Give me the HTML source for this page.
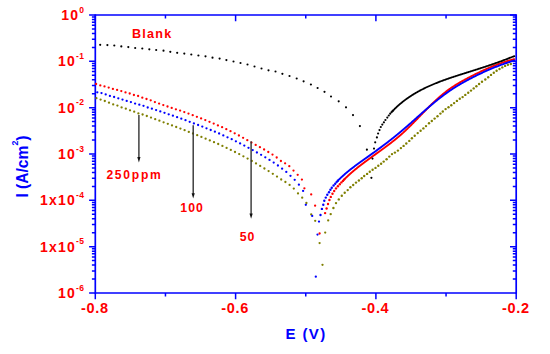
<!DOCTYPE html>
<html><head><meta charset="utf-8"><style>
html,body{margin:0;padding:0;background:#fff;}
body{width:550px;height:354px;overflow:hidden;position:relative;font-family:"Liberation Sans",sans-serif;}
svg{position:absolute;left:0;top:0;}
</style></head><body>
<svg width="550" height="354" viewBox="0 0 550 354">
<g stroke="#0000ff" stroke-width="1.7" fill="none">
<line x1="95.3" y1="15.0" x2="516.2" y2="15.0"/>
<line x1="95.3" y1="293.0" x2="516.2" y2="293.0"/>
<line x1="95.3" y1="14.15" x2="95.3" y2="293.85"/>
<line x1="516.2" y1="14.15" x2="516.2" y2="293.85"/>
</g>
<path d="M89.1 15.00H95.3 M510.0 15.00H516.2 M91.9 47.39H95.3 M512.8 47.39H516.2 M91.9 39.23H95.3 M512.8 39.23H516.2 M91.9 33.44H95.3 M512.8 33.44H516.2 M91.9 28.95H95.3 M512.8 28.95H516.2 M91.9 25.28H95.3 M512.8 25.28H516.2 M91.9 22.18H95.3 M512.8 22.18H516.2 M91.9 19.49H95.3 M512.8 19.49H516.2 M91.9 17.12H95.3 M512.8 17.12H516.2 M89.1 61.33H95.3 M510.0 61.33H516.2 M91.9 93.72H95.3 M512.8 93.72H516.2 M91.9 85.56H95.3 M512.8 85.56H516.2 M91.9 79.77H95.3 M512.8 79.77H516.2 M91.9 75.28H95.3 M512.8 75.28H516.2 M91.9 71.61H95.3 M512.8 71.61H516.2 M91.9 68.51H95.3 M512.8 68.51H516.2 M91.9 65.82H95.3 M512.8 65.82H516.2 M91.9 63.45H95.3 M512.8 63.45H516.2 M89.1 107.67H95.3 M510.0 107.67H516.2 M91.9 140.05H95.3 M512.8 140.05H516.2 M91.9 131.89H95.3 M512.8 131.89H516.2 M91.9 126.10H95.3 M512.8 126.10H516.2 M91.9 121.61H95.3 M512.8 121.61H516.2 M91.9 117.95H95.3 M512.8 117.95H516.2 M91.9 114.84H95.3 M512.8 114.84H516.2 M91.9 112.16H95.3 M512.8 112.16H516.2 M91.9 109.79H95.3 M512.8 109.79H516.2 M89.1 154.00H95.3 M510.0 154.00H516.2 M91.9 186.39H95.3 M512.8 186.39H516.2 M91.9 178.23H95.3 M512.8 178.23H516.2 M91.9 172.44H95.3 M512.8 172.44H516.2 M91.9 167.95H95.3 M512.8 167.95H516.2 M91.9 164.28H95.3 M512.8 164.28H516.2 M91.9 161.18H95.3 M512.8 161.18H516.2 M91.9 158.49H95.3 M512.8 158.49H516.2 M91.9 156.12H95.3 M512.8 156.12H516.2 M89.1 200.33H95.3 M510.0 200.33H516.2 M91.9 232.72H95.3 M512.8 232.72H516.2 M91.9 224.56H95.3 M512.8 224.56H516.2 M91.9 218.77H95.3 M512.8 218.77H516.2 M91.9 214.28H95.3 M512.8 214.28H516.2 M91.9 210.61H95.3 M512.8 210.61H516.2 M91.9 207.51H95.3 M512.8 207.51H516.2 M91.9 204.82H95.3 M512.8 204.82H516.2 M91.9 202.45H95.3 M512.8 202.45H516.2 M89.1 246.67H95.3 M510.0 246.67H516.2 M91.9 279.05H95.3 M512.8 279.05H516.2 M91.9 270.89H95.3 M512.8 270.89H516.2 M91.9 265.10H95.3 M512.8 265.10H516.2 M91.9 260.61H95.3 M512.8 260.61H516.2 M91.9 256.95H95.3 M512.8 256.95H516.2 M91.9 253.84H95.3 M512.8 253.84H516.2 M91.9 251.16H95.3 M512.8 251.16H516.2 M91.9 248.79H95.3 M512.8 248.79H516.2 M89.1 293.00H95.3 M95.30 293.0V299.2 M95.30 15.0V21.2 M165.45 293.0V296.4 M165.45 15.0V18.4 M235.60 293.0V299.2 M235.60 15.0V21.2 M305.75 293.0V296.4 M305.75 15.0V18.4 M375.90 293.0V299.2 M375.90 15.0V21.2 M446.05 293.0V296.4 M446.05 15.0V18.4 M516.20 293.0V299.2 M516.20 15.0V21.2" stroke="#0000ff" stroke-width="1.5" fill="none"/>
<text x="84.2" y="20.0" font-family="Liberation Sans, sans-serif" font-weight="bold" font-size="14" fill="#ff0000" text-anchor="end" letter-spacing="1.2">10<tspan font-size="8.5" dy="-7.4" letter-spacing="0.3">0</tspan></text>
<text x="84.2" y="66.3" font-family="Liberation Sans, sans-serif" font-weight="bold" font-size="14" fill="#ff0000" text-anchor="end" letter-spacing="1.2">10<tspan font-size="8.5" dy="-7.4" letter-spacing="0.3">-1</tspan></text>
<text x="84.2" y="112.7" font-family="Liberation Sans, sans-serif" font-weight="bold" font-size="14" fill="#ff0000" text-anchor="end" letter-spacing="1.2">10<tspan font-size="8.5" dy="-7.4" letter-spacing="0.3">-2</tspan></text>
<text x="84.2" y="159.0" font-family="Liberation Sans, sans-serif" font-weight="bold" font-size="14" fill="#ff0000" text-anchor="end" letter-spacing="1.2">10<tspan font-size="8.5" dy="-7.4" letter-spacing="0.3">-3</tspan></text>
<text x="84.2" y="205.3" font-family="Liberation Sans, sans-serif" font-weight="bold" font-size="14" fill="#ff0000" text-anchor="end" letter-spacing="1.2">1x10<tspan font-size="8.5" dy="-7.4" letter-spacing="0.3">-4</tspan></text>
<text x="84.2" y="251.7" font-family="Liberation Sans, sans-serif" font-weight="bold" font-size="14" fill="#ff0000" text-anchor="end" letter-spacing="1.2">1x10<tspan font-size="8.5" dy="-7.4" letter-spacing="0.3">-5</tspan></text>
<text x="84.2" y="298.0" font-family="Liberation Sans, sans-serif" font-weight="bold" font-size="14" fill="#ff0000" text-anchor="end" letter-spacing="1.2">10<tspan font-size="8.5" dy="-7.4" letter-spacing="0.3">-6</tspan></text>
<text x="94.9" y="313.0" font-family="Liberation Sans, sans-serif" font-weight="bold" font-size="14.5" fill="#ff0000" text-anchor="middle" letter-spacing="0.7">-0.8</text>
<text x="235.2" y="313.0" font-family="Liberation Sans, sans-serif" font-weight="bold" font-size="14.5" fill="#ff0000" text-anchor="middle" letter-spacing="0.7">-0.6</text>
<text x="375.5" y="313.0" font-family="Liberation Sans, sans-serif" font-weight="bold" font-size="14.5" fill="#ff0000" text-anchor="middle" letter-spacing="0.7">-0.4</text>
<text x="515.8" y="313.0" font-family="Liberation Sans, sans-serif" font-weight="bold" font-size="14.5" fill="#ff0000" text-anchor="middle" letter-spacing="0.7">-0.2</text>
<text x="285.6" y="339.4" font-family="Liberation Sans, sans-serif" font-weight="bold" font-size="15" fill="#0000ff" letter-spacing="1.35">E (V)</text>
<g transform="translate(27.9,197.6) rotate(-90)"><text x="0" y="0" font-family="Liberation Sans, sans-serif" font-weight="bold" font-size="15.6" fill="#0000ff">I (A/cm<tspan font-size="8.8" dy="-10">2</tspan><tspan dy="10">)</tspan></text></g>
<text x="132" y="37.5" font-family="Liberation Sans, sans-serif" font-weight="bold" font-size="12.6" fill="#ff0000" letter-spacing="1.25">Blank</text>
<text x="106.4" y="178.7" font-family="Liberation Sans, sans-serif" font-weight="bold" font-size="12.1" fill="#ff0000" letter-spacing="1.75">250ppm</text>
<text x="180.3" y="212.3" font-family="Liberation Sans, sans-serif" font-weight="bold" font-size="12.3" fill="#ff0000" letter-spacing="1">100</text>
<text x="239.7" y="240.9" font-family="Liberation Sans, sans-serif" font-weight="bold" font-size="12.3" fill="#ff0000" letter-spacing="1">50</text>
<g fill="#7f7f00"><circle cx="96.4" cy="98.2" r="1.15"/><circle cx="100.6" cy="99.6" r="1.15"/><circle cx="104.8" cy="101.0" r="1.15"/><circle cx="109.0" cy="102.7" r="1.15"/><circle cx="113.2" cy="104.4" r="1.15"/><circle cx="117.4" cy="105.6" r="1.15"/><circle cx="121.6" cy="107.4" r="1.15"/><circle cx="125.8" cy="108.7" r="1.15"/><circle cx="130.0" cy="110.3" r="1.15"/><circle cx="134.2" cy="111.7" r="1.15"/><circle cx="138.4" cy="113.4" r="1.15"/><circle cx="142.6" cy="114.5" r="1.15"/><circle cx="146.8" cy="116.0" r="1.15"/><circle cx="151.0" cy="117.6" r="1.15"/><circle cx="155.2" cy="119.2" r="1.15"/><circle cx="159.4" cy="120.7" r="1.15"/><circle cx="163.6" cy="122.3" r="1.15"/><circle cx="167.8" cy="123.8" r="1.15"/><circle cx="172.0" cy="125.4" r="1.15"/><circle cx="176.2" cy="127.0" r="1.15"/><circle cx="180.4" cy="128.6" r="1.15"/><circle cx="184.6" cy="130.2" r="1.15"/><circle cx="188.8" cy="131.9" r="1.15"/><circle cx="193.0" cy="133.5" r="1.15"/><circle cx="197.2" cy="135.2" r="1.15"/><circle cx="201.4" cy="136.9" r="1.15"/><circle cx="205.6" cy="138.7" r="1.15"/><circle cx="209.8" cy="140.4" r="1.15"/><circle cx="214.0" cy="142.2" r="1.15"/><circle cx="218.2" cy="144.0" r="1.15"/><circle cx="222.4" cy="145.9" r="1.15"/><circle cx="226.6" cy="147.9" r="1.15"/><circle cx="230.8" cy="149.9" r="1.15"/><circle cx="235.0" cy="152.0" r="1.15"/><circle cx="239.2" cy="154.1" r="1.15"/><circle cx="243.4" cy="156.3" r="1.15"/><circle cx="247.6" cy="158.6" r="1.15"/><circle cx="251.8" cy="161.0" r="1.15"/><circle cx="256.0" cy="163.4" r="1.15"/><circle cx="260.2" cy="165.9" r="1.15"/><circle cx="264.4" cy="168.5" r="1.15"/><circle cx="268.6" cy="171.1" r="1.15"/><circle cx="272.8" cy="173.8" r="1.15"/><circle cx="277.0" cy="176.6" r="1.15"/><circle cx="281.2" cy="179.5" r="1.15"/><circle cx="285.4" cy="182.0" r="1.15"/><circle cx="289.6" cy="184.9" r="1.15"/><circle cx="293.8" cy="188.6" r="1.15"/><circle cx="298.0" cy="193.4" r="1.15"/><circle cx="302.2" cy="197.7" r="1.15"/><circle cx="306.4" cy="203.0" r="1.15"/></g>
<g fill="#7f7f00"><circle cx="311.2" cy="214.4" r="1.15"/><circle cx="315.2" cy="220.8" r="1.15"/><circle cx="319.6" cy="243.1" r="1.15"/><circle cx="322.5" cy="264.8" r="1.15"/><circle cx="325.2" cy="232.6" r="1.15"/><circle cx="328.2" cy="220.4" r="1.15"/></g>
<g fill="#7f7f00"><circle cx="330.7" cy="214.1" r="1.2"/><circle cx="333.4" cy="208.0" r="1.2"/><circle cx="336.0" cy="203.1" r="1.2"/><circle cx="338.8" cy="199.4" r="1.2"/><circle cx="341.8" cy="195.8" r="1.2"/><circle cx="344.7" cy="192.8" r="1.2"/><circle cx="347.7" cy="190.1" r="1.2"/><circle cx="350.4" cy="187.3" r="1.2"/><circle cx="353.2" cy="185.0" r="1.2"/><circle cx="356.0" cy="182.6" r="1.2"/><circle cx="358.9" cy="180.5" r="1.2"/><circle cx="361.7" cy="178.2" r="1.2"/><circle cx="364.2" cy="176.0" r="1.2"/><circle cx="367.1" cy="173.9" r="1.2"/><circle cx="369.8" cy="171.8" r="1.2"/><circle cx="372.6" cy="169.8" r="1.2"/><circle cx="375.5" cy="167.9" r="1.2"/><circle cx="378.3" cy="165.8" r="1.2"/><circle cx="381.1" cy="163.7" r="1.2"/><circle cx="383.7" cy="161.6" r="1.2"/><circle cx="386.6" cy="159.2" r="1.2"/><circle cx="389.3" cy="156.6" r="1.2"/><circle cx="392.0" cy="154.1" r="1.2"/><circle cx="394.9" cy="152.6" r="1.2"/><circle cx="397.9" cy="150.6" r="1.2"/><circle cx="400.9" cy="148.1" r="1.2"/><circle cx="403.6" cy="145.9" r="1.2"/><circle cx="406.3" cy="143.5" r="1.2"/><circle cx="409.3" cy="140.9" r="1.2"/><circle cx="411.9" cy="138.3" r="1.2"/><circle cx="414.7" cy="135.8" r="1.2"/><circle cx="417.7" cy="133.1" r="1.2"/><circle cx="420.6" cy="130.7" r="1.2"/><circle cx="423.4" cy="128.4" r="1.2"/><circle cx="426.0" cy="126.1" r="1.2"/><circle cx="429.0" cy="123.2" r="1.2"/><circle cx="431.8" cy="121.0" r="1.2"/><circle cx="434.6" cy="118.6" r="1.2"/><circle cx="437.5" cy="116.2" r="1.2"/><circle cx="440.4" cy="113.6" r="1.2"/><circle cx="442.8" cy="111.5" r="1.2"/><circle cx="445.6" cy="109.1" r="1.2"/><circle cx="448.5" cy="107.3" r="1.2"/><circle cx="451.3" cy="105.2" r="1.2"/><circle cx="454.1" cy="103.1" r="1.2"/><circle cx="456.9" cy="100.9" r="1.2"/><circle cx="459.8" cy="98.8" r="1.2"/><circle cx="462.6" cy="97.1" r="1.2"/><circle cx="465.3" cy="94.9" r="1.2"/><circle cx="468.2" cy="92.8" r="1.2"/><circle cx="471.0" cy="90.6" r="1.2"/><circle cx="473.7" cy="88.4" r="1.2"/><circle cx="476.4" cy="86.2" r="1.2"/><circle cx="479.1" cy="84.0" r="1.2"/><circle cx="482.0" cy="81.7" r="1.2"/><circle cx="485.3" cy="79.5" r="1.2"/><circle cx="488.2" cy="77.2" r="1.2"/><circle cx="491.0" cy="74.9" r="1.2"/><circle cx="493.8" cy="72.7" r="1.2"/><circle cx="496.6" cy="70.8" r="1.2"/><circle cx="499.5" cy="69.0" r="1.2"/><circle cx="502.3" cy="67.4" r="1.2"/><circle cx="505.1" cy="65.9" r="1.2"/><circle cx="507.9" cy="64.8" r="1.2"/><circle cx="510.8" cy="64.0" r="1.2"/></g>
<g fill="#0000ff"><circle cx="97.3" cy="92.3" r="1.15"/><circle cx="101.5" cy="93.1" r="1.15"/><circle cx="105.7" cy="94.4" r="1.15"/><circle cx="109.9" cy="95.9" r="1.15"/><circle cx="114.1" cy="97.0" r="1.15"/><circle cx="118.3" cy="98.3" r="1.15"/><circle cx="122.5" cy="99.6" r="1.15"/><circle cx="126.7" cy="100.9" r="1.15"/><circle cx="130.9" cy="102.1" r="1.15"/><circle cx="135.1" cy="103.6" r="1.15"/><circle cx="139.3" cy="104.7" r="1.15"/><circle cx="143.5" cy="105.8" r="1.15"/><circle cx="147.7" cy="107.5" r="1.15"/><circle cx="151.9" cy="108.7" r="1.15"/><circle cx="156.1" cy="110.1" r="1.15"/><circle cx="160.3" cy="111.4" r="1.15"/><circle cx="164.5" cy="112.8" r="1.15"/><circle cx="168.7" cy="114.3" r="1.15"/><circle cx="172.9" cy="115.7" r="1.15"/><circle cx="177.1" cy="117.2" r="1.15"/><circle cx="181.3" cy="118.7" r="1.15"/><circle cx="185.5" cy="120.2" r="1.15"/><circle cx="189.7" cy="121.8" r="1.15"/><circle cx="193.9" cy="123.4" r="1.15"/><circle cx="198.1" cy="125.0" r="1.15"/><circle cx="202.3" cy="126.6" r="1.15"/><circle cx="206.5" cy="128.3" r="1.15"/><circle cx="210.7" cy="130.0" r="1.15"/><circle cx="214.9" cy="131.7" r="1.15"/><circle cx="219.1" cy="133.5" r="1.15"/><circle cx="223.3" cy="135.4" r="1.15"/><circle cx="227.5" cy="137.3" r="1.15"/><circle cx="231.7" cy="139.2" r="1.15"/><circle cx="235.9" cy="141.3" r="1.15"/><circle cx="240.1" cy="143.4" r="1.15"/><circle cx="244.3" cy="145.6" r="1.15"/><circle cx="248.5" cy="147.8" r="1.15"/><circle cx="252.7" cy="150.1" r="1.15"/><circle cx="256.9" cy="152.5" r="1.15"/><circle cx="261.1" cy="154.8" r="1.15"/><circle cx="265.3" cy="157.3" r="1.15"/><circle cx="269.5" cy="159.9" r="1.15"/><circle cx="273.7" cy="162.6" r="1.15"/><circle cx="277.9" cy="165.5" r="1.15"/><circle cx="282.1" cy="168.7" r="1.15"/><circle cx="286.3" cy="171.9" r="1.15"/><circle cx="290.5" cy="175.8" r="1.15"/><circle cx="294.7" cy="179.8" r="1.15"/><circle cx="298.9" cy="184.7" r="1.15"/><circle cx="303.1" cy="190.9" r="1.15"/></g>
<g fill="#0000ff"><circle cx="305.8" cy="204.8" r="1.15"/><circle cx="312.2" cy="215.9" r="1.15"/><circle cx="319.0" cy="221.6" r="1.15"/><circle cx="317.5" cy="234.6" r="1.15"/><circle cx="315.8" cy="276.7" r="1.15"/></g>
<g fill="#ff0000"><circle cx="96.1" cy="84.0" r="1.15"/><circle cx="100.3" cy="85.4" r="1.15"/><circle cx="104.5" cy="86.4" r="1.15"/><circle cx="108.7" cy="87.6" r="1.15"/><circle cx="112.9" cy="88.9" r="1.15"/><circle cx="117.1" cy="89.9" r="1.15"/><circle cx="121.3" cy="91.1" r="1.15"/><circle cx="125.5" cy="92.4" r="1.15"/><circle cx="129.7" cy="93.5" r="1.15"/><circle cx="133.9" cy="95.0" r="1.15"/><circle cx="138.1" cy="96.0" r="1.15"/><circle cx="142.3" cy="97.7" r="1.15"/><circle cx="146.5" cy="99.0" r="1.15"/><circle cx="150.7" cy="100.3" r="1.15"/><circle cx="154.9" cy="102.1" r="1.15"/><circle cx="159.1" cy="103.6" r="1.15"/><circle cx="163.3" cy="105.1" r="1.15"/><circle cx="167.5" cy="106.5" r="1.15"/><circle cx="171.7" cy="107.9" r="1.15"/><circle cx="175.9" cy="109.3" r="1.15"/><circle cx="180.1" cy="110.6" r="1.15"/><circle cx="184.3" cy="112.1" r="1.15"/><circle cx="188.5" cy="113.6" r="1.15"/><circle cx="192.7" cy="115.2" r="1.15"/><circle cx="196.9" cy="116.8" r="1.15"/><circle cx="201.1" cy="118.4" r="1.15"/><circle cx="205.3" cy="120.1" r="1.15"/><circle cx="209.5" cy="121.8" r="1.15"/><circle cx="213.7" cy="123.6" r="1.15"/><circle cx="217.9" cy="125.4" r="1.15"/><circle cx="222.1" cy="127.2" r="1.15"/><circle cx="226.3" cy="129.2" r="1.15"/><circle cx="230.5" cy="131.2" r="1.15"/><circle cx="234.7" cy="133.3" r="1.15"/><circle cx="238.9" cy="135.5" r="1.15"/><circle cx="243.1" cy="137.8" r="1.15"/><circle cx="247.3" cy="140.2" r="1.15"/><circle cx="251.5" cy="142.6" r="1.15"/><circle cx="255.7" cy="144.9" r="1.15"/><circle cx="259.9" cy="147.2" r="1.15"/><circle cx="264.1" cy="149.5" r="1.15"/><circle cx="268.3" cy="152.0" r="1.15"/><circle cx="272.5" cy="154.6" r="1.15"/><circle cx="276.7" cy="157.5" r="1.15"/><circle cx="280.9" cy="161.0" r="1.15"/><circle cx="285.1" cy="163.3" r="1.15"/><circle cx="289.3" cy="166.2" r="1.15"/><circle cx="293.5" cy="170.6" r="1.15"/><circle cx="297.7" cy="174.8" r="1.15"/><circle cx="301.9" cy="179.6" r="1.15"/></g>
<g fill="#ff0000"><circle cx="304.4" cy="188.3" r="1.15"/><circle cx="311.2" cy="194.4" r="1.15"/><circle cx="315.1" cy="205.7" r="1.15"/><circle cx="319.6" cy="233.5" r="1.15"/></g>
<g fill="#ff0000"><circle cx="325.1" cy="213.1" r="1.2"/><circle cx="326.6" cy="208.5" r="1.2"/><circle cx="328.0" cy="204.0" r="1.2"/><circle cx="329.4" cy="200.0" r="1.2"/><circle cx="330.8" cy="196.9" r="1.2"/><circle cx="332.5" cy="193.8" r="1.2"/><circle cx="334.2" cy="191.0" r="1.2"/><circle cx="336.0" cy="188.4" r="1.2"/><circle cx="337.9" cy="186.3" r="1.2"/><circle cx="339.8" cy="184.2" r="1.2"/><circle cx="341.4" cy="182.4" r="1.2"/><circle cx="342.9" cy="180.9" r="1.2"/><circle cx="344.1" cy="179.6" r="1.2"/></g><polyline points="344.10,179.61 344.54,179.17 344.97,178.73 345.42,178.29 345.86,177.86 346.30,177.43 346.75,177.00 347.20,176.57 347.65,176.14 348.11,175.72 348.56,175.30 349.02,174.88 349.48,174.46 349.94,174.04 350.40,173.63 350.87,173.22 351.33,172.81 351.80,172.40 352.27,171.99 352.75,171.58 353.22,171.18 353.69,170.78 354.17,170.38 354.65,169.98 355.13,169.58 355.61,169.18 356.09,168.79 356.58,168.40 357.06,168.00 357.55,167.61 358.04,167.22 358.53,166.84 359.02,166.45 359.51,166.06 360.00,165.68 360.50,165.29 360.99,164.91 361.49,164.53 361.99,164.15 362.49,163.77 362.99,163.39 363.49,163.01 363.99,162.64 364.49,162.26 364.99,161.88 365.50,161.51 366.00,161.14 366.51,160.76 367.01,160.39 367.52,160.02 368.03,159.64 368.53,159.27 369.04,158.90 369.55,158.53 370.06,158.16 370.57,157.79 371.08,157.42 371.59,157.06 372.10,156.69 372.61,156.32 373.12,155.95 373.64,155.58 374.15,155.21 374.66,154.85 375.17,154.48 375.68,154.11 376.20,153.74 376.71,153.38 377.22,153.01 377.73,152.64 378.25,152.27 378.76,151.90 379.27,151.53 379.78,151.17 380.29,150.80 380.81,150.43 381.32,150.06 381.83,149.69 382.34,149.32 382.85,148.94 383.36,148.57 383.87,148.20 384.38,147.83 384.88,147.45 385.39,147.08 385.90,146.70 386.40,146.33 386.91,145.95 387.42,145.57 387.92,145.19 388.42,144.81 388.93,144.43 389.43,144.05 389.93,143.67 390.43,143.29 390.93,142.90 391.43,142.52 391.92,142.13 392.42,141.74 392.92,141.36 393.41,140.97 393.90,140.57 394.39,140.18 394.88,139.79 395.37,139.39 395.86,138.99 396.35,138.60 396.83,138.20 397.32,137.79 397.80,137.39 398.28,136.99 398.76,136.58 399.24,136.17 399.71,135.76 400.19,135.35 400.66,134.94 401.13,134.52 401.60,134.11 402.07,133.69 402.54,133.27 403.01,132.85 403.47,132.42 403.93,132.00 404.39,131.57 404.85,131.14 405.31,130.72 405.77,130.28 406.23,129.85 406.68,129.42 407.14,128.99 407.59,128.55 408.04,128.11 408.49,127.68 408.94,127.24 409.39,126.80 409.84,126.36 410.29,125.92 410.73,125.48 411.18,125.03 411.63,124.59 412.07,124.14 412.51,123.70 412.96,123.25 413.40,122.81 413.84,122.36 414.28,121.91 414.72,121.46 415.16,121.01 415.60,120.57 416.04,120.12 416.48,119.67 416.92,119.22 417.35,118.77 417.79,118.32 418.23,117.87 418.67,117.41 419.10,116.96 419.54,116.51 419.98,116.06 420.42,115.61 420.85,115.16 421.29,114.71 421.73,114.26 422.16,113.81 422.60,113.36 423.04,112.91 423.48,112.46 423.91,112.01 424.35,111.56 424.79,111.12 425.23,110.67 425.67,110.22 426.11,109.77 426.55,109.33 426.99,108.88 427.43,108.44 427.87,108.00 428.31,107.55 428.75,107.11 429.20,106.67 429.64,106.23 430.09,105.79 430.53,105.35 430.98,104.92 431.42,104.48 431.87,104.05 432.32,103.61 432.77,103.18 433.22,102.75 433.67,102.32 434.13,101.89 434.58,101.46 435.04,101.04 435.49,100.61 435.95,100.19 436.41,99.77 436.87,99.35 437.33,98.93 437.79,98.52 438.26,98.10 438.72,97.69 439.19,97.28 439.66,96.87 440.13,96.46 440.60,96.06 441.07,95.66 441.55,95.26 442.02,94.86 442.50,94.46 442.98,94.07 443.46,93.67 443.94,93.28 444.43,92.89 444.92,92.51 445.41,92.13 445.90,91.75 446.39,91.37 446.88,90.99 447.38,90.62 447.88,90.25 448.38,89.88 448.88,89.51 449.39,89.15 449.90,88.79 450.41,88.43 450.92,88.08 451.43,87.73 451.95,87.38 452.47,87.03 452.99,86.69 453.51,86.34 454.04,86.01 454.56,85.67 455.09,85.33 455.62,85.00 456.15,84.67 456.68,84.34 457.22,84.02 457.76,83.70 458.29,83.37 458.83,83.06 459.37,82.74 459.91,82.42 460.46,82.11 461.00,81.80 461.55,81.49 462.09,81.18 462.64,80.87 463.19,80.57 463.74,80.27 464.29,79.96 464.84,79.66 465.40,79.36 465.95,79.07 466.50,78.77 467.06,78.48 467.61,78.18 468.17,77.89 468.72,77.60 469.28,77.31 469.84,77.02 470.40,76.73 470.95,76.44 471.51,76.16 472.07,75.87 472.63,75.59 473.19,75.30 473.75,75.02 474.31,74.74 474.87,74.46 475.43,74.18 475.99,73.91 476.55,73.63 477.11,73.35 477.67,73.08 478.24,72.81 478.80,72.54 479.36,72.27 479.93,72.00 480.49,71.73 481.06,71.46 481.62,71.20 482.19,70.93 482.75,70.67 483.32,70.41 483.89,70.15 484.45,69.89 485.02,69.64 485.59,69.38 486.16,69.13 486.73,68.88 487.30,68.63 487.87,68.38 488.44,68.13 489.02,67.88 489.59,67.64 490.16,67.40 490.74,67.16 491.31,66.92 491.89,66.68 492.46,66.45 493.04,66.21 493.62,65.98 494.20,65.75 494.77,65.52 495.35,65.29 495.93,65.07 496.51,64.85 497.10,64.63 497.68,64.41 498.26,64.19 498.84,63.97 499.43,63.76 500.01,63.55 500.60,63.34 501.19,63.13 501.77,62.93 502.36,62.72 502.95,62.52 503.54,62.32 504.13,62.13 504.72,61.93 505.31,61.74 505.91,61.55 506.50,61.36 507.09,61.17 507.69,60.99 508.29,60.81 508.88,60.63 509.48,60.45 510.08,60.28 510.68,60.11 511.28,59.94 511.88,59.77 512.49,59.60 513.09,59.44 513.69,59.28 514.30,59.12" fill="none" stroke="#ff0000" stroke-width="1.9" stroke-linejoin="round" stroke-linecap="round"/>
<g fill="#0000ff"><circle cx="320.5" cy="215.0" r="1.2"/><circle cx="321.9" cy="208.9" r="1.2"/><circle cx="323.3" cy="204.7" r="1.2"/><circle cx="324.3" cy="200.8" r="1.2"/><circle cx="325.8" cy="197.6" r="1.2"/><circle cx="327.3" cy="194.8" r="1.2"/><circle cx="329.0" cy="192.2" r="1.2"/><circle cx="330.4" cy="189.8" r="1.2"/><circle cx="331.8" cy="187.7" r="1.2"/><circle cx="333.6" cy="185.5" r="1.2"/><circle cx="335.2" cy="183.7" r="1.2"/><circle cx="336.6" cy="182.1" r="1.2"/><circle cx="337.8" cy="180.8" r="1.2"/></g><polyline points="337.80,180.83 338.24,180.37 338.68,179.91 339.12,179.46 339.57,179.01 340.02,178.56 340.48,178.12 340.93,177.68 341.39,177.24 341.86,176.81 342.32,176.37 342.79,175.94 343.26,175.51 343.73,175.09 344.21,174.67 344.69,174.25 345.17,173.83 345.65,173.41 346.13,173.00 346.62,172.59 347.11,172.18 347.60,171.77 348.09,171.36 348.59,170.96 349.09,170.56 349.58,170.16 350.09,169.76 350.59,169.36 351.09,168.97 351.60,168.57 352.10,168.18 352.61,167.79 353.12,167.40 353.63,167.02 354.14,166.63 354.66,166.24 355.17,165.86 355.69,165.48 356.20,165.10 356.72,164.72 357.24,164.34 357.76,163.96 358.28,163.58 358.80,163.20 359.32,162.83 359.84,162.45 360.37,162.08 360.89,161.70 361.41,161.33 361.93,160.96 362.46,160.58 362.98,160.21 363.51,159.84 364.03,159.47 364.55,159.10 365.08,158.72 365.60,158.35 366.13,157.98 366.65,157.61 367.17,157.24 367.69,156.87 368.22,156.50 368.74,156.12 369.26,155.75 369.78,155.38 370.30,155.01 370.82,154.64 371.34,154.26 371.86,153.89 372.38,153.52 372.90,153.14 373.42,152.77 373.93,152.40 374.45,152.02 374.97,151.65 375.48,151.27 376.00,150.90 376.51,150.52 377.03,150.14 377.54,149.77 378.06,149.39 378.57,149.01 379.08,148.63 379.59,148.26 380.10,147.88 380.62,147.50 381.13,147.12 381.64,146.74 382.15,146.36 382.66,145.98 383.16,145.60 383.67,145.21 384.18,144.83 384.69,144.45 385.19,144.06 385.70,143.68 386.21,143.29 386.71,142.91 387.21,142.52 387.72,142.13 388.22,141.74 388.72,141.36 389.23,140.97 389.73,140.58 390.23,140.19 390.73,139.79 391.23,139.40 391.73,139.01 392.23,138.61 392.73,138.22 393.22,137.82 393.72,137.43 394.22,137.03 394.71,136.63 395.21,136.23 395.70,135.83 396.20,135.43 396.69,135.03 397.18,134.63 397.67,134.23 398.17,133.82 398.66,133.42 399.15,133.01 399.64,132.60 400.13,132.19 400.61,131.79 401.10,131.37 401.59,130.96 402.08,130.55 402.56,130.14 403.05,129.72 403.53,129.31 404.02,128.89 404.50,128.48 404.98,128.06 405.47,127.64 405.95,127.23 406.43,126.81 406.91,126.39 407.39,125.97 407.88,125.55 408.36,125.12 408.84,124.70 409.32,124.28 409.80,123.86 410.28,123.44 410.76,123.01 411.24,122.59 411.71,122.16 412.19,121.74 412.67,121.32 413.15,120.89 413.63,120.47 414.11,120.04 414.59,119.62 415.06,119.19 415.54,118.76 416.02,118.34 416.50,117.91 416.98,117.49 417.46,117.06 417.93,116.64 418.41,116.21 418.89,115.79 419.37,115.36 419.85,114.94 420.33,114.51 420.81,114.09 421.29,113.66 421.77,113.24 422.25,112.82 422.73,112.39 423.21,111.97 423.69,111.55 424.17,111.13 424.65,110.71 425.13,110.29 425.61,109.87 426.09,109.45 426.58,109.03 427.06,108.61 427.54,108.19 428.03,107.78 428.51,107.36 429.00,106.94 429.48,106.53 429.97,106.12 430.46,105.70 430.94,105.29 431.43,104.88 431.92,104.47 432.41,104.06 432.90,103.65 433.39,103.25 433.88,102.84 434.37,102.43 434.86,102.03 435.36,101.63 435.85,101.23 436.35,100.83 436.84,100.43 437.34,100.03 437.84,99.63 438.33,99.24 438.83,98.84 439.33,98.45 439.83,98.06 440.34,97.67 440.84,97.28 441.34,96.90 441.85,96.51 442.35,96.13 442.86,95.75 443.37,95.36 443.88,94.99 444.39,94.61 444.90,94.23 445.41,93.86 445.92,93.49 446.44,93.12 446.95,92.75 447.47,92.38 447.99,92.02 448.51,91.66 449.03,91.30 449.55,90.94 450.07,90.58 450.60,90.23 451.12,89.88 451.65,89.53 452.18,89.18 452.71,88.83 453.24,88.49 453.77,88.14 454.31,87.80 454.84,87.47 455.38,87.13 455.92,86.79 456.45,86.46 456.99,86.13 457.53,85.80 458.08,85.47 458.62,85.15 459.16,84.82 459.71,84.50 460.25,84.18 460.80,83.86 461.35,83.54 461.90,83.23 462.45,82.91 463.00,82.60 463.55,82.29 464.10,81.98 464.65,81.67 465.21,81.36 465.76,81.06 466.32,80.75 466.88,80.45 467.43,80.15 467.99,79.85 468.55,79.55 469.11,79.25 469.67,78.96 470.23,78.66 470.79,78.37 471.36,78.08 471.92,77.79 472.48,77.50 473.05,77.21 473.61,76.92 474.18,76.63 474.75,76.35 475.31,76.07 475.88,75.78 476.45,75.50 477.02,75.22 477.59,74.95 478.16,74.67 478.73,74.39 479.30,74.12 479.88,73.85 480.45,73.58 481.02,73.31 481.60,73.04 482.17,72.77 482.75,72.50 483.33,72.24 483.90,71.97 484.48,71.71 485.06,71.45 485.64,71.19 486.22,70.93 486.80,70.68 487.38,70.42 487.96,70.17 488.54,69.92 489.12,69.66 489.71,69.41 490.29,69.17 490.88,68.92 491.46,68.67 492.05,68.43 492.63,68.19 493.22,67.95 493.81,67.71 494.40,67.47 494.98,67.23 495.57,66.99 496.16,66.76 496.75,66.53 497.34,66.30 497.94,66.07 498.53,65.84 499.12,65.61 499.71,65.39 500.31,65.16 500.90,64.94 501.50,64.72 502.09,64.50 502.69,64.29 503.29,64.07 503.89,63.86 504.48,63.65 505.08,63.44 505.68,63.23 506.28,63.02 506.89,62.82 507.49,62.61 508.09,62.41 508.69,62.21 509.30,62.02 509.90,61.82 510.51,61.63 511.11,61.44 511.72,61.25 512.33,61.06 512.94,60.88 513.55,60.69 514.16,60.51" fill="none" stroke="#0000ff" stroke-width="1.9" stroke-linejoin="round" stroke-linecap="round"/>
<g fill="#000000"><circle cx="100.2" cy="44.8" r="1.08"/><circle cx="107.4" cy="45.1" r="1.08"/><circle cx="114.3" cy="45.5" r="1.08"/><circle cx="121.3" cy="46.4" r="1.08"/><circle cx="128.3" cy="47.1" r="1.08"/><circle cx="135.2" cy="48.0" r="1.08"/><circle cx="142.3" cy="48.5" r="1.08"/><circle cx="149.3" cy="49.3" r="1.08"/><circle cx="156.2" cy="50.0" r="1.08"/><circle cx="163.5" cy="50.7" r="1.08"/><circle cx="170.3" cy="51.8" r="1.08"/><circle cx="177.2" cy="52.8" r="1.08"/><circle cx="184.3" cy="53.6" r="1.08"/><circle cx="191.3" cy="54.5" r="1.08"/><circle cx="198.4" cy="55.5" r="1.08"/><circle cx="205.5" cy="56.3" r="1.08"/><circle cx="212.5" cy="57.7" r="1.08"/><circle cx="219.6" cy="58.6" r="1.08"/><circle cx="226.4" cy="60.1" r="1.08"/><circle cx="233.5" cy="61.5" r="1.08"/><circle cx="240.5" cy="63.0" r="1.08"/><circle cx="247.5" cy="64.5" r="1.08"/><circle cx="254.5" cy="66.5" r="1.08"/><circle cx="261.5" cy="68.5" r="1.08"/><circle cx="268.5" cy="70.3" r="1.08"/><circle cx="275.5" cy="71.5" r="1.08"/><circle cx="282.4" cy="73.8" r="1.08"/><circle cx="289.5" cy="76.0" r="1.08"/><circle cx="296.7" cy="78.5" r="1.08"/><circle cx="303.6" cy="81.3" r="1.08"/><circle cx="310.9" cy="84.5" r="1.08"/><circle cx="317.6" cy="88.0" r="1.08"/><circle cx="324.5" cy="91.8" r="1.08"/><circle cx="331.0" cy="96.5" r="1.08"/><circle cx="338.7" cy="101.3" r="1.08"/><circle cx="346.0" cy="107.3" r="1.08"/><circle cx="353.0" cy="115.1" r="1.08"/><circle cx="359.9" cy="126.1" r="1.08"/><circle cx="366.9" cy="149.7" r="1.08"/><circle cx="371.4" cy="177.8" r="1.08"/><circle cx="372.5" cy="158.6" r="1.08"/><circle cx="374.0" cy="148.6" r="1.08"/></g>
<g fill="#000000"><circle cx="375.2" cy="142.3" r="1.1"/><circle cx="376.9" cy="137.4" r="1.1"/><circle cx="378.1" cy="133.5" r="1.1"/><circle cx="379.5" cy="130.1" r="1.1"/><circle cx="380.8" cy="127.0" r="1.1"/><circle cx="382.3" cy="124.6" r="1.1"/><circle cx="383.9" cy="122.3" r="1.1"/><circle cx="385.4" cy="120.0" r="1.1"/><circle cx="387.3" cy="117.6" r="1.1"/><circle cx="388.8" cy="115.5" r="1.1"/><circle cx="390.2" cy="113.7" r="1.1"/><circle cx="391.6" cy="112.2" r="1.1"/><circle cx="392.7" cy="110.9" r="1.1"/></g><polyline points="392.73,110.92 393.16,110.47 393.60,110.02 394.03,109.57 394.47,109.13 394.91,108.69 395.36,108.25 395.81,107.81 396.26,107.38 396.72,106.95 397.18,106.53 397.64,106.10 398.10,105.68 398.57,105.27 399.04,104.85 399.51,104.44 399.99,104.03 400.47,103.63 400.95,103.23 401.43,102.83 401.92,102.43 402.41,102.04 402.90,101.65 403.40,101.26 403.89,100.88 404.39,100.50 404.90,100.12 405.40,99.74 405.88,99.39 406.37,99.04 406.86,98.68 407.35,98.34 407.84,97.99 408.33,97.65 408.83,97.31 409.32,96.97 409.82,96.64 410.32,96.31 410.83,95.98 411.33,95.65 411.84,95.33 412.34,95.01 412.85,94.69 413.36,94.37 413.87,94.06 414.39,93.75 414.90,93.44 415.44,93.12 415.99,92.80 416.53,92.49 417.08,92.18 417.62,91.87 418.17,91.56 418.72,91.26 419.27,90.96 419.82,90.66 420.38,90.37 420.93,90.07 421.49,89.78 422.04,89.50 422.60,89.21 423.16,88.93 423.72,88.65 424.28,88.37 424.85,88.10 425.41,87.82 425.98,87.55 426.54,87.28 427.11,87.02 427.68,86.75 428.25,86.49 428.82,86.23 429.39,85.97 429.96,85.72 430.54,85.47 431.11,85.21 431.69,84.97 432.26,84.72 432.84,84.47 433.42,84.23 434.00,83.99 434.58,83.75 435.16,83.51 435.74,83.27 436.32,83.04 436.91,82.81 437.49,82.57 438.08,82.35 438.66,82.12 439.25,81.89 439.83,81.67 440.39,81.45 440.96,81.24 441.52,81.03 442.08,80.82 442.64,80.61 443.21,80.41 443.77,80.20 444.34,80.00 444.90,79.79 445.47,79.59 446.03,79.39 446.60,79.19 447.17,78.99 447.74,78.80 448.30,78.60 448.87,78.40 449.44,78.21 450.01,78.01 450.58,77.82 451.15,77.63 451.72,77.44 452.29,77.25 452.86,77.06 453.43,76.87 454.00,76.68 454.57,76.49 455.15,76.30 455.72,76.12 456.29,75.93 456.86,75.75 457.44,75.56 458.01,75.38 458.58,75.19 459.15,75.01 459.73,74.83 460.30,74.64 460.87,74.46 461.45,74.28 462.02,74.10 462.59,73.92 463.17,73.74 463.74,73.56 464.31,73.38 464.89,73.20 465.46,73.02 466.03,72.84 466.61,72.66 467.18,72.48 467.75,72.30 468.33,72.12 468.90,71.94 469.47,71.76 470.04,71.58 470.64,71.39 471.24,71.20 471.84,71.01 472.44,70.82 473.04,70.63 473.64,70.44 474.24,70.25 474.83,70.06 475.43,69.87 476.03,69.68 476.63,69.49 477.22,69.30 477.82,69.11 478.42,68.92 479.01,68.73 479.61,68.53 480.21,68.34 480.80,68.15 481.40,67.96 481.99,67.76 482.59,67.57 483.18,67.37 483.78,67.18 484.37,66.98 484.97,66.79 485.56,66.59 486.16,66.39 486.75,66.20 487.34,66.00 487.94,65.80 488.53,65.60 489.12,65.40 489.71,65.20 490.31,65.00 490.90,64.80 491.49,64.60 492.08,64.40 492.67,64.19 493.26,63.99 493.85,63.78 494.44,63.58 495.03,63.37 495.62,63.17 496.21,62.96 496.80,62.75 497.39,62.54 497.98,62.33 498.57,62.12 499.16,61.91 499.75,61.69 500.33,61.48 500.92,61.27 501.51,61.05 502.10,60.84 502.68,60.62 503.27,60.40 503.85,60.18 504.44,59.96 505.03,59.74 505.61,59.52 506.20,59.30 506.78,59.07 507.37,58.85 507.95,58.62 508.53,58.40 509.12,58.17 509.70,57.94 510.28,57.71 510.87,57.48 511.45,57.24 512.03,57.01 512.61,56.77 513.19,56.54 513.77,56.30 514.36,56.06" fill="none" stroke="#000000" stroke-width="1.8" stroke-linejoin="round" stroke-linecap="round"/>
<line x1="138.9" y1="115.1" x2="138.9" y2="158.4" stroke="#333" stroke-width="1.4"/><path d="M137.3 157.1 L140.5 157.1 L138.9 162.4 Z" fill="#111"/>
<line x1="193.2" y1="125.3" x2="193.2" y2="194.5" stroke="#333" stroke-width="1.4"/><path d="M191.6 193.2 L194.79999999999998 193.2 L193.2 198.5 Z" fill="#111"/>
<line x1="251.1" y1="141.3" x2="251.1" y2="214.7" stroke="#333" stroke-width="1.4"/><path d="M249.5 213.39999999999998 L252.7 213.39999999999998 L251.1 218.7 Z" fill="#111"/>
</svg>
</body></html>
